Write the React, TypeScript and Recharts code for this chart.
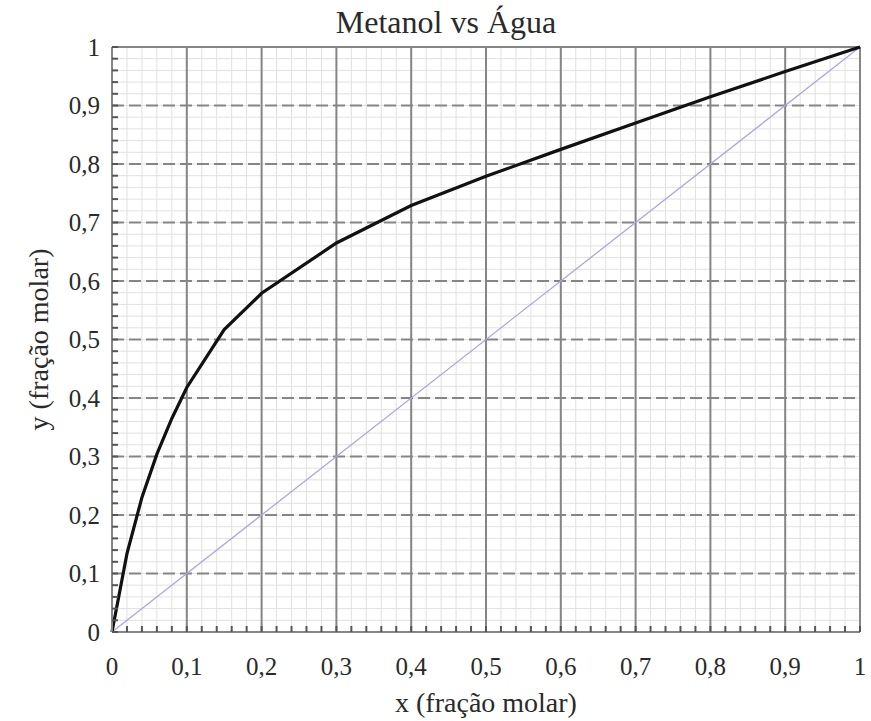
import React from "react";
import {
  LineChart,
  Line,
  XAxis,
  YAxis,
  CartesianGrid,
} from "recharts";

// curva de equilíbrio metanol-água (x líquido, y vapor)
const xLiquid = [0, 0.02, 0.04, 0.06, 0.08, 0.1, 0.15, 0.2, 0.3, 0.4, 0.5, 0.6, 0.7, 0.8, 0.9, 0.95, 1.0];
const yVapor = [0, 0.134, 0.23, 0.304, 0.365, 0.418, 0.517, 0.579, 0.665, 0.729, 0.779, 0.825, 0.87, 0.915, 0.958, 0.979, 1.0];

// reta y = x
const diagX = [0, 1];
const diagY = [0, 1];

const majorTicks = [0, 0.1, 0.2, 0.3, 0.4, 0.5, 0.6, 0.7, 0.8, 0.9, 1];
const innerMajor = [0.1, 0.2, 0.3, 0.4, 0.5, 0.6, 0.7, 0.8, 0.9];
const borderY = [0, 1];
const minorTicks = Array.from({ length: 51 }, (_, i) => +(i * 0.02).toFixed(2));

const curve = xLiquid.map((x, i) => ({ x, y: yVapor[i] }));
const diagonal = diagX.map((x, i) => ({ x, y: diagY[i] }));

const GRID = "#858585";
const MINOR = "#e1e1e1";
const TEXT = "#2a2a2a";
const FONT = "'Liberation Serif', serif";

const isMajor = (v: number) => Math.abs(v * 10 - Math.round(v * 10)) < 1e-6;
const fmt = (v: number) => (isMajor(v) ? String(+v.toFixed(1)).replace(".", ",") : "");

const YLabel = ({ viewBox }: any) => {
  const cx = 38;
  const cy = viewBox.y + viewBox.height / 2;
  return (
    <text
      x={cx}
      y={cy}
      transform={`rotate(-90, ${cx}, ${cy})`}
      textAnchor="middle"
      dominantBaseline="central"
      fill={TEXT}
      fontSize={28}
      fontFamily={FONT}
    >
      y (fração molar)
    </text>
  );
};

export default function App() {
  return (
    <div style={{ position: "absolute", left: 0, top: 0, width: 871, height: 721, background: "#fff", fontFamily: FONT }}>
      <div
        style={{
          position: "absolute",
          left: 0,
          width: 892,
          top: 4,
          textAlign: "center",
          fontSize: 32,
          color: TEXT,
          zIndex: 2,
        }}
      >
        Metanol vs Água
      </div>
      <LineChart
        width={871}
        height={721}
        margin={{ top: 47, right: 11, left: 0, bottom: 0 }}
        style={{ fontFamily: FONT }}
      >
        <CartesianGrid verticalValues={minorTicks} horizontalValues={minorTicks} stroke={MINOR} strokeWidth={1} />
        <CartesianGrid verticalValues={majorTicks} horizontal={false} stroke={GRID} strokeWidth={2} />
        <CartesianGrid
          horizontalValues={innerMajor}
          vertical={false}
          stroke={GRID}
          strokeWidth={2}
          strokeDasharray="12 5"
        />
        <CartesianGrid horizontalValues={borderY} vertical={false} stroke={GRID} strokeWidth={2} />

        <XAxis
          type="number"
          dataKey="x"
          domain={[0, 1]}
          ticks={minorTicks}
          interval={0}
          tickFormatter={fmt}
          height={89}
          tickSize={-6}
          tickMargin={31}
          tick={{ fill: TEXT, fontSize: 25 }}
          axisLine={{ stroke: GRID, strokeWidth: 2 }}
          tickLine={{ stroke: "#555", strokeWidth: 2 }}
          label={{
            value: "x (fração molar)",
            position: "insideBottom",
            offset: 9,
            fill: TEXT,
            fontSize: 28,
          }}
        />
        <YAxis
          type="number"
          domain={[0, 1]}
          ticks={minorTicks}
          interval={0}
          tickFormatter={fmt}
          width={112}
          tickSize={-6}
          tickMargin={18}
          tick={{ fill: TEXT, fontSize: 25 }}
          axisLine={{ stroke: GRID, strokeWidth: 2 }}
          tickLine={{ stroke: "#555", strokeWidth: 2 }}
          label={<YLabel />}
        />

        <Line
          data={diagonal}
          dataKey="y"
          type="linear"
          stroke="#a9a9da"
          strokeWidth={1.3}
          dot={false}
          isAnimationActive={false}
        />
        <Line
          data={curve}
          dataKey="y"
          type="linear"
          stroke="#111"
          strokeWidth={3.2}
          dot={false}
          isAnimationActive={false}
        />
      </LineChart>
    </div>
  );
}
